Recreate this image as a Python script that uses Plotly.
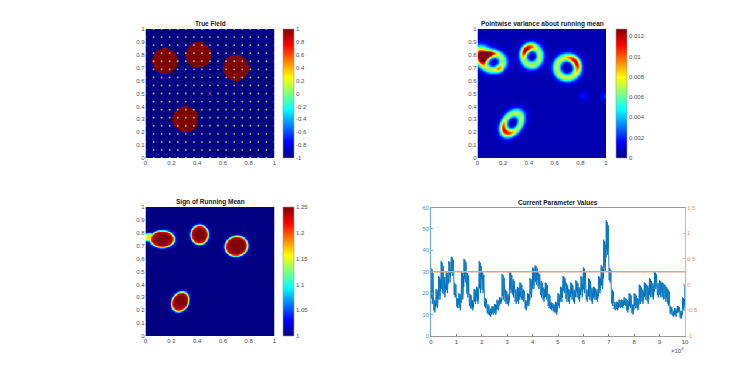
import numpy as np
import plotly.graph_objects as go

# ---------------- data ----------------
# True field: circular inclusions
circle_x = [0.15, 0.41, 0.70, 0.31]
circle_y = [0.75, 0.80, 0.70, 0.30]
circle_r = [0.10, 0.10, 0.10, 0.10]
field_inside, field_outside = 1.0, -1.0

# sensor grid and marked point
sensor_coords = [i / 16 for i in range(17)]
mark_x, mark_y = [0.5], [0.5]

# Pointwise variance: elliptical rings
ring_cx = [0.12, 0.42, 0.695, 0.27]
ring_cy = [0.745, 0.79, 0.70, 0.27]
ring_rx = [0.075, 0.063, 0.08, 0.058]
ring_ry = [0.063, 0.07, 0.078, 0.085]
ring_rot = [0, 0, 0, -35]
ring_hot = [120, 130, 35, 225]
ring_base = [0.0064, 0.0064, 0.0068, 0.0064]
ring_peak = [0.0105, 0.0118, 0.0112, 0.0108]
# extra variance bumps
bump_x = [0.025, 0.82, 1.0, 0.17]
bump_y = [0.80, 0.48, 0.48, 0.69]
bump_s = [0.045, 0.025, 0.025, 0.02]
bump_a = [0.0115, 0.0012, 0.0018, 0.003]
var_background = 0.0006

# Sign of running mean: blobs
sign_cx = [0.13, 0.42, 0.705, 0.27, 0.03]
sign_cy = [0.75, 0.785, 0.695, 0.265, 0.765]
sign_rx = [0.095, 0.068, 0.088, 0.063, 0.06]
sign_ry = [0.065, 0.075, 0.078, 0.08, 0.03]
sign_rot = [0, 0, 15, -30, 0]
sign_amp = [1.0, 1.0, 1.0, 1.0, 0.65]

# Current parameter values: per-1000-iteration low / high envelope
bin_low = [15, 11, 13, 17, 20, 18, 20, 25, 28, 18,
           13, 12, 17, 25, 18, 13, 12, 15, 15, 20,
           20, 13, 10, 9, 10, 10, 12, 15, 17, 15,
           14, 20, 18, 15, 15, 17, 16, 12, 14, 18,
           22, 24, 22, 18, 16, 17, 13, 12, 11, 10,
           13, 16, 20, 16, 15, 17, 15, 18, 16, 18,
           20, 16, 17, 15, 17, 16, 20, 22, 30, 38,
           25, 14, 12, 12, 13, 13, 14, 11, 13, 10,
           13, 12, 15, 15, 17, 15, 18, 17, 22, 18,
           18, 17, 16, 14, 10, 9, 9, 11, 8, 12,
           18]
bin_high = [32, 17, 22, 28, 35, 28, 30, 35, 37, 25,
            18, 20, 30, 36, 30, 20, 17, 22, 23, 35,
            30, 18, 15, 13, 14, 15, 17, 18, 29, 22,
            20, 30, 27, 22, 23, 25, 22, 17, 20, 27,
            32, 33, 30, 26, 23, 25, 20, 16, 15, 16,
            20, 23, 28, 25, 22, 25, 22, 26, 23, 28,
            32, 22, 27, 23, 23, 22, 28, 33, 45, 54,
            32, 22, 16, 16, 17, 17, 18, 17, 20, 15,
            20, 18, 24, 22, 25, 24, 27, 25, 30, 25,
            26, 25, 24, 22, 14, 12, 13, 14, 12, 18,
            24]
bin_width = 1000
true_param = 0.25
# drawing pattern used to sweep each bin's envelope (fractions of low->high)
sweep = [1.0, 0.15, 0.8, 0.35, 0.95, 0.0, 0.6, 0.25, 0.85, 0.45]

# ---------------- fields ----------------
N = 220
g = (np.arange(N) + 0.5) / N
X, Y = np.meshgrid(g, g)

true_field = np.full((N, N), field_outside)
for cx, cy, r in zip(circle_x, circle_y, circle_r):
    true_field[(X - cx) ** 2 + (Y - cy) ** 2 <= r ** 2] = field_inside


def ell(cx, cy, rx, ry, rot):
    t = np.deg2rad(rot)
    dx, dy = X - cx, Y - cy
    u = dx * np.cos(t) + dy * np.sin(t)
    v = -dx * np.sin(t) + dy * np.cos(t)
    rho = np.sqrt((u / rx) ** 2 + (v / ry) ** 2)
    d = (rho - 1) * np.sqrt(rx * ry)
    return d, np.arctan2(dy, dx)


var_field = np.full((N, N), var_background)
for cx, cy, rx, ry, rot, hot, b, p in zip(ring_cx, ring_cy, ring_rx, ring_ry,
                                         ring_rot, ring_hot, ring_base, ring_peak):
    d, th = ell(cx, cy, rx, ry, rot)
    w = np.exp(-(d / 0.03) ** 2)
    halo = np.exp(-(np.clip(d, 0, None) / 0.05) ** 2) * (d > 0)
    h = np.clip(np.cos(th - np.deg2rad(hot)), 0, None) ** 2
    var_field += w * (b + (p - b) * h) + 0.0012 * halo * (1 - w)
for bx, by, bs, ba in zip(bump_x, bump_y, bump_s, bump_a):
    var_field += ba * np.exp(-((X - bx) ** 2 + (Y - by) ** 2) / (2 * bs ** 2))
var_field = np.clip(var_field, 0, 0.0127)

sign_field = np.zeros((N, N))
for cx, cy, rx, ry, rot, a in zip(sign_cx, sign_cy, sign_rx, sign_ry, sign_rot, sign_amp):
    d, _ = ell(cx, cy, rx, ry, rot)
    sign_field = np.maximum(sign_field, a / (1 + np.exp(d / 0.006)))
sign_field = 1 + 0.25 * sign_field

# series: sweep each bin's envelope
series_x, series_y = [], []
ns = len(sweep)
for i, (lo, hi) in enumerate(zip(bin_low, bin_high)):
    for k, f in enumerate(sweep):
        series_x.append(i * bin_width + k * bin_width / ns)
        series_y.append(lo + f * (hi - lo))

# ---------------- figure ----------------
W, H = 754, 377
OFF = 8  # page body margin
jet = [[0, 'rgb(0,0,128)'], [0.125, 'rgb(0,0,255)'], [0.375, 'rgb(0,255,255)'],
       [0.625, 'rgb(255,255,0)'], [0.875, 'rgb(255,0,0)'], [1, 'rgb(128,0,0)']]
FONT = 'Liberation Sans, Arial, sans-serif'
TXT = '#4d4d4d'


def fx(x):
    return (x - OFF) / W


def fy(y):
    return 1 - (y - OFF) / H


def px(x0, x1):
    return [fx(x0), fx(x1)]


def py(top, bot):
    return [fy(bot), fy(top)]


def cbar(x, top, bot, vals, texts):
    return dict(x=fx(x), xanchor='left', y=fy((top + bot) / 2), yanchor='middle',
                len=(bot - top) / H, lenmode='fraction', thickness=11,
                thicknessmode='pixels', outlinewidth=0.6, outlinecolor='#999',
                xpad=0, ypad=0, ticks='', tickvals=vals, ticktext=texts,
                tickfont=dict(size=6, color=TXT, family=FONT))


fig = go.Figure()
fig.add_trace(go.Heatmap(x=g, y=g, z=true_field, zmin=-1, zmax=1, colorscale=jet,
                         xaxis='x', yaxis='y',
                         colorbar=cbar(283, 29, 158,
                                       [-1, -0.8, -0.6, -0.4, -0.2, 0, 0.2, 0.4, 0.6, 0.8, 1],
                                       ['-1', '-0.8', '-0.6', '-0.4', '-0.2', '0',
                                        '0.2', '0.4', '0.6', '0.8', '1'])))
sx, sy = np.meshgrid(sensor_coords, sensor_coords)
fig.add_trace(go.Scatter(x=sx.ravel(), y=sy.ravel(), mode='markers', xaxis='x', yaxis='y',
                         marker=dict(size=1.8, color='#b4e07a', opacity=0.9), showlegend=False,
                         hoverinfo='skip', cliponaxis=True))
fig.add_trace(go.Scatter(x=mark_x, y=mark_y, mode='markers', xaxis='x', yaxis='y',
                         marker=dict(size=5, symbol='x-thin', color='#7E2F8E',
                                     line=dict(width=0.8, color='#7E2F8E')),
                         showlegend=False))
fig.add_trace(go.Heatmap(x=g, y=g, z=var_field, zmin=0, zmax=0.0127, colorscale=jet,
                         xaxis='x2', yaxis='y2',
                         colorbar=cbar(615.5, 29, 158,
                                       [0, 0.002, 0.004, 0.006, 0.008, 0.01, 0.012],
                                       ['0', '0.002', '0.004', '0.006', '0.008', '0.01', '0.012'])))
fig.add_trace(go.Heatmap(x=g, y=g, z=sign_field, zmin=1, zmax=1.25, colorscale=jet,
                         xaxis='x3', yaxis='y3',
                         colorbar=cbar(283, 207, 336,
                                       [1, 1.05, 1.1, 1.15, 1.2, 1.25],
                                       ['1', '1.05', '1.1', '1.15', '1.2', '1.25'])))
fig.add_trace(go.Scatter(x=series_x, y=series_y, mode='lines', xaxis='x4', yaxis='y4',
                         line=dict(color='#0072BD', width=0.9), showlegend=False))
fig.add_trace(go.Scatter(x=[0, 100000], y=[true_param, true_param], mode='lines',
                         xaxis='x4', yaxis='y5',
                         line=dict(color='#E8A07C', width=1.6), showlegend=False))

tf = dict(size=6, color=TXT, family=FONT)
hx = dict(range=[0, 1], tickvals=[0, 0.2, 0.4, 0.6, 0.8, 1],
          ticktext=['0', '0.2', '0.4', '0.6', '0.8', '1'], tickfont=tf,
          showgrid=False, zeroline=False, ticks='', showline=False)
hy = dict(range=[0, 1], tickvals=[i / 10 for i in range(11)],
          ticktext=['0', '0.1', '0.2', '0.3', '0.4', '0.5', '0.6', '0.7', '0.8', '0.9', '1'],
          tickfont=tf, showgrid=False, zeroline=False, ticks='', showline=False)

fig.update_layout(
    width=W, height=H, margin=dict(l=0, r=0, t=0, b=0, autoexpand=False),
    paper_bgcolor='white', plot_bgcolor='white', showlegend=False,
    xaxis=dict(hx, domain=px(145.5, 274.5), anchor='y'),
    yaxis=dict(hy, domain=py(29, 158), anchor='x'),
    xaxis2=dict(hx, domain=px(477.5, 606), anchor='y2'),
    yaxis2=dict(hy, domain=py(29, 158), anchor='x2'),
    xaxis3=dict(hx, domain=px(145.5, 274.5), anchor='y3'),
    yaxis3=dict(hy, domain=py(207, 336), anchor='x3'),
    xaxis4=dict(domain=px(431, 685), anchor='y4', range=[0, 100000],
                tickvals=[i * 10000 for i in range(11)],
                ticktext=[str(i) for i in range(11)], tickfont=tf,
                showgrid=False, zeroline=False, showline=True, linecolor='#9a9a9a',
                linewidth=0.8, mirror=True, ticks='inside', ticklen=2, tickcolor='#777'),
    yaxis4=dict(domain=py(207.5, 336), anchor='x4', range=[0, 60],
                tickvals=[0, 10, 20, 30, 40, 50, 60],
                tickfont=dict(size=6, color='#4a90c8', family=FONT),
                showgrid=False, zeroline=False, showline=True, linecolor='#6aa6d6',
                linewidth=0.8, ticks='inside', ticklen=2, tickcolor='#6aa6d6'),
    yaxis5=dict(overlaying='y4', side='right', anchor='x4', range=[-1, 1.5],
                tickvals=[-1, -0.5, 0, 0.5, 1, 1.5],
                ticktext=['-1', '-0.5', '0', '0.5', '1', '1.5'],
                tickfont=dict(size=6, color='#e0956a', family=FONT),
                showgrid=False, zeroline=False, showline=True, linecolor='#e8b090',
                linewidth=0.8, ticks='inside', ticklen=2, tickcolor='#e8b090'),
)

titles = [("True Field", 210, 23.5), ("Pointwise variance about running mean", 542, 23.5),
          ("Sign of Running Mean", 210, 202), ("Current Parameter Values", 558, 202.5)]
for t, x, y in titles:
    fig.add_annotation(text='<b>' + t + '</b>', x=fx(x), y=fy(y), xref='paper', yref='paper',
                       showarrow=False, xanchor='center', yanchor='middle',
                       font=dict(size=6.5, color='#1a1a1a', family=FONT))
fig.add_annotation(text='×10<sup>4</sup>', x=fx(677), y=fy(350), xref='paper', yref='paper',
                   showarrow=False, xanchor='center', yanchor='middle',
                   font=dict(size=6, color=TXT, family=FONT))

fig.write_html("out.html")
